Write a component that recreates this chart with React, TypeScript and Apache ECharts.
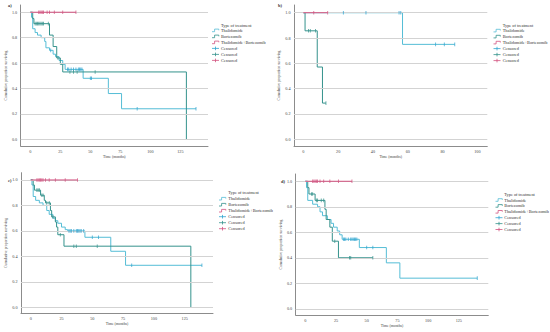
import React, { useEffect, useRef } from 'react';
import * as echarts from 'echarts';

// ---------- tick labels / texts ----------
const yTicks = [0, 0.2, 0.4, 0.6, 0.8, 1.0];
const xTicks125 = [0, 25, 50, 75, 100, 125];
const xTicks100 = [0, 20, 40, 60, 80, 100];
const panelLetters = ['a)', 'b)', 'c)', 'd)'];
const legendTitle = 'Type of treatment';
const legendNames = ['Thalidomide', 'Bortezomib', 'Thalidomide+Bortezomib', 'Censored', 'Censored', 'Censored'];
const xName = 'Time (months)';
const yName = 'Cumulative proportion surviving';

// ---------- panel a ----------
const thalA = [[0, 1], [1, 0.96], [2, 0.87], [4, 0.84], [6, 0.82], [9, 0.8], [12, 0.77], [13, 0.72], [16, 0.7], [19, 0.67], [21, 0.65], [24, 0.62], [27, 0.59], [29, 0.55], [44, 0.48], [65, 0.36], [76, 0.24], [138, 0.24]];
const bortA = [[0, 1], [2, 0.95], [3, 0.91], [16, 0.82], [19, 0.73], [22, 0.64], [25, 0.59], [27, 0.53], [130, 0]];
const tbA = [[0, 1], [38, 1]];
const thalCensA = [[17, 0.7], [31, 0.55], [32, 0.55], [34, 0.55], [36, 0.55], [38, 0.55], [40, 0.55], [41, 0.55], [42, 0.55], [43, 0.55], [50, 0.48], [51, 0.48], [89, 0.24], [138, 0.24]];
const bortCensA = [[4, 0.91], [5, 0.91], [6, 0.91], [7, 0.91], [8, 0.91], [9, 0.91], [10, 0.91], [11, 0.91], [15, 0.91], [23, 0.64], [33, 0.53], [36, 0.53], [39, 0.53], [54, 0.53]];
const tbCensA = [[7, 1], [8, 1], [9, 1], [10, 1], [11, 1], [14, 1], [16, 1], [20, 1], [27, 1], [38, 1]];

// ---------- panel b ----------
const thalB = [[0, 1], [57, 0.75], [87, 0.75]];
const bortB = [[0, 1], [1, 0.857], [8, 0.571], [11, 0.286], [13, 0.286]];
const tbB = [[0, 1], [14, 1]];
const thalCensB = [[23, 1], [36, 1], [55, 1], [56, 1], [76, 0.75], [81, 0.75], [87, 0.75]];
const bortCensB = [[3, 0.857], [4, 0.857], [7, 0.857], [13, 0.286]];
const tbCensB = [[6, 1], [14, 1]];

// ---------- panel c ----------
const thalC = [[0, 1], [1, 0.96], [2, 0.87], [4, 0.84], [7, 0.82], [10, 0.8], [13, 0.76], [15, 0.73], [18, 0.7], [20, 0.68], [22, 0.66], [25, 0.63], [28, 0.61], [30, 0.6], [44, 0.55], [65, 0.44], [77, 0.33], [139, 0.33]];
const bortC = [[0, 1], [2, 0.96], [3, 0.92], [8, 0.88], [11, 0.84], [12, 0.82], [16, 0.76], [17, 0.71], [20, 0.67], [21, 0.63], [22, 0.57], [27, 0.48], [130, 0]];
const tbC = [[0, 1], [38, 1]];
const thalCensC = [[31, 0.6], [32, 0.6], [33, 0.6], [35, 0.6], [37, 0.6], [38, 0.6], [39, 0.6], [40, 0.6], [41, 0.6], [43, 0.6], [50, 0.55], [55, 0.55], [82, 0.33], [139, 0.33]];
const bortCensC = [[5, 0.92], [6, 0.92], [7, 0.92], [9, 0.88], [10, 0.88], [13, 0.82], [15, 0.82], [18, 0.71], [24, 0.57], [35, 0.48], [37, 0.48], [54, 0.48]];
const tbCensC = [[5, 1], [6, 1], [7, 1], [8, 1], [9, 1], [10, 1], [12, 1], [15, 1], [20, 1], [28, 1], [38, 1]];

// ---------- panel d ----------
const thalD = [[0, 1], [1, 0.95], [2, 0.85], [6, 0.82], [10, 0.8], [12, 0.76], [14, 0.73], [18, 0.7], [21, 0.67], [23, 0.64], [26, 0.61], [28, 0.58], [30, 0.545], [44, 0.48], [66, 0.36], [77, 0.24], [140, 0.24]];
const bortD = [[0, 1], [2, 0.95], [3, 0.9], [8, 0.85], [16, 0.78], [17, 0.7], [20, 0.64], [22, 0.53], [27, 0.4], [55, 0.4]];
const tbD = [[0, 1], [38, 1]];
const thalCensD = [[31, 0.545], [32, 0.545], [33, 0.545], [35, 0.545], [37, 0.545], [38, 0.545], [39, 0.545], [40, 0.545], [41, 0.545], [42, 0.545], [50, 0.48], [55, 0.48], [140, 0.24]];
const bortCensD = [[5, 0.9], [6, 0.9], [9, 0.85], [10, 0.85], [13, 0.85], [15, 0.85], [24, 0.53], [36, 0.4], [37, 0.4], [55, 0.4]];
const tbCensD = [[6, 1], [7, 1], [8, 1], [9, 1], [10, 1], [12, 1], [15, 1], [20, 1], [27, 1], [38, 1]];

// ---------- styling / layout ----------
const FONT = 'Liberation Serif, DejaVu Serif, serif';
const C_THAL = '#55bdd6';
const C_BORT = '#34928c';
const C_TB = '#d2527f';
const C_THAL_CENS = '#2fa3cf';
const legendColors = [C_THAL, C_BORT, C_TB, C_THAL_CENS, C_BORT, C_TB];

const panels = [
  {
    curves: [thalA, bortA, tbA], cens: [thalCensA, bortCensA, tbCensA], xTicks: xTicks125,
    grid: { left: 20.7, top: 5, width: 187.3, height: 141 }, x: [-8, 148], y: [-0.053, 1.057],
    letter: [8, 5], legend: { iconX: 212, textX: 221, titleY: 25, rowY: 30.4, gap: 6 },
  },
  {
    curves: [thalB, bortB, tbB], cens: [thalCensB, bortCensB, tbCensB], xTicks: xTicks100,
    grid: { left: 294, top: 5, width: 193.3, height: 141 }, x: [-5.35, 105.7], y: [-0.053, 1.061],
    letter: [278, 5], legend: { iconX: 493.5, textX: 502.7, titleY: 25, rowY: 30.6, gap: 6 },
  },
  {
    curves: [thalC, bortC, tbC], cens: [thalCensC, bortCensC, tbCensC], xTicks: xTicks125,
    grid: { left: 21, top: 172.7, width: 192, height: 140.6 }, x: [-7.9, 148], y: [-0.047, 1.057],
    letter: [8, 180], legend: { iconX: 219, textX: 228.3, titleY: 192.7, rowY: 198.7, gap: 6 },
  },
  {
    curves: [thalD, bortD, tbD], cens: [thalCensD, bortCensD, tbCensD], xTicks: xTicks125,
    grid: { left: 295.7, top: 174, width: 192.6, height: 141 }, x: [-7.8, 149], y: [-0.049, 1.057],
    letter: [281, 181], legend: { iconX: 495.5, textX: 504.3, titleY: 194.7, rowY: 200, gap: 5.9 },
  },
];

function legendGraphics(l: any) {
  const els: any[] = [];
  els.push({
    type: 'text', x: l.textX, y: l.titleY,
    style: { text: legendTitle, fontSize: 4.3, fontFamily: FONT, fill: '#333', verticalAlign: 'middle' },
  });
  legendNames.forEach((name, k) => {
    const y = l.rowY + k * l.gap;
    const color = legendColors[k];
    const x0 = l.iconX;
    if (k < 3) {
      els.push({
        type: 'polyline',
        shape: { points: [[x0, y + 1.3], [x0 + 2.6, y + 1.3], [x0 + 2.6, y - 1.3], [x0 + 6.8, y - 1.3], [x0 + 6.8, y - 0.1]] },
        style: { stroke: color, lineWidth: 0.8, fill: null },
      });
    } else {
      els.push({ type: 'line', shape: { x1: x0, y1: y, x2: x0 + 7, y2: y }, style: { stroke: color, lineWidth: 0.8 } });
      els.push({ type: 'line', shape: { x1: x0 + 3.5, y1: y - 1.8, x2: x0 + 3.5, y2: y + 1.8 }, style: { stroke: color, lineWidth: 0.8 } });
    }
    els.push({
      type: 'text', x: l.textX, y,
      style: { text: name, fontSize: 4.3, fontFamily: FONT, fill: '#333', verticalAlign: 'middle' },
    });
  });
  return els;
}

function buildOption() {
  const grid: any[] = [];
  const xAxis: any[] = [];
  const yAxis: any[] = [];
  const series: any[] = [];
  const graphic: any[] = [];
  const curveColors = [C_THAL, C_BORT, C_TB];
  const censColors = [C_THAL_CENS, C_BORT, C_TB];

  panels.forEach((p, i) => {
    grid.push({ ...p.grid, containLabel: false });
    xAxis.push({
      gridIndex: i, type: 'value', min: p.x[0], max: p.x[1],
      axisLine: { show: true, onZero: false, lineStyle: { color: '#8c8c8c', width: 1 } },
      axisTick: { show: false }, splitLine: { show: false },
      axisLabel: { customValues: p.xTicks, fontSize: 4.2, color: '#444', margin: 3.5, fontFamily: FONT },
      name: xName, nameLocation: 'middle', nameGap: 9,
      nameTextStyle: { fontSize: 3.8, color: '#444', fontFamily: FONT },
    });
    yAxis.push({
      gridIndex: i, type: 'value', min: p.y[0], max: p.y[1],
      axisLine: { show: true, onZero: false, lineStyle: { color: '#8c8c8c', width: 1 } },
      axisTick: { show: false }, splitLine: { show: false },
      axisLabel: {
        customValues: yTicks, fontSize: 4.2, color: '#444', margin: 3.5, fontFamily: FONT,
        formatter: (v: number) => v.toFixed(1),
      },
      name: yName, nameLocation: 'middle', nameGap: 12, nameRotate: 90,
      nameTextStyle: { fontSize: 3.8, color: '#444', fontFamily: FONT },
    });
    series.push({
      type: 'line', xAxisIndex: i, yAxisIndex: i, data: [], silent: true, z: 1,
      markLine: {
        silent: true, symbol: 'none', label: { show: false },
        lineStyle: { color: '#d3d3d3', width: 1.2, type: 'solid' },
        data: yTicks.map((v) => ({ yAxis: v })),
      },
    });
    p.curves.forEach((c, k) => {
      series.push({
        type: 'line', xAxisIndex: i, yAxisIndex: i, data: c, step: 'end',
        showSymbol: false, symbol: 'none', z: 3 + k,
        lineStyle: { color: curveColors[k], width: 1 }, itemStyle: { color: curveColors[k] },
      });
    });
    p.cens.forEach((c, k) => {
      series.push({
        type: 'scatter', xAxisIndex: i, yAxisIndex: i, data: c, symbol: 'rect',
        symbolSize: [0.9, 3.6], z: 7, itemStyle: { color: censColors[k] },
      });
    });
    graphic.push({
      type: 'text', x: p.letter[0], y: p.letter[1],
      style: { text: panelLetters[i], fontSize: 4.5, fontWeight: 'bold', fontFamily: FONT, fill: '#333', verticalAlign: 'middle' },
    });
    graphic.push(...legendGraphics(p.legend));
  });

  return { animation: false, backgroundColor: '#ffffff', grid, xAxis, yAxis, series, graphic };
}

export default function App() {
  const ref = useRef<HTMLDivElement>(null);
  useEffect(() => {
    if (!ref.current) return;
    const chart = echarts.init(ref.current, undefined, { renderer: 'svg' });
    chart.setOption(buildOption() as any);
    return () => chart.dispose();
  }, []);
  return (
    <div
      ref={ref}
      style={{ position: 'fixed', left: 0, top: 0, width: 550, height: 332, background: '#fff' }}
    />
  );
}
